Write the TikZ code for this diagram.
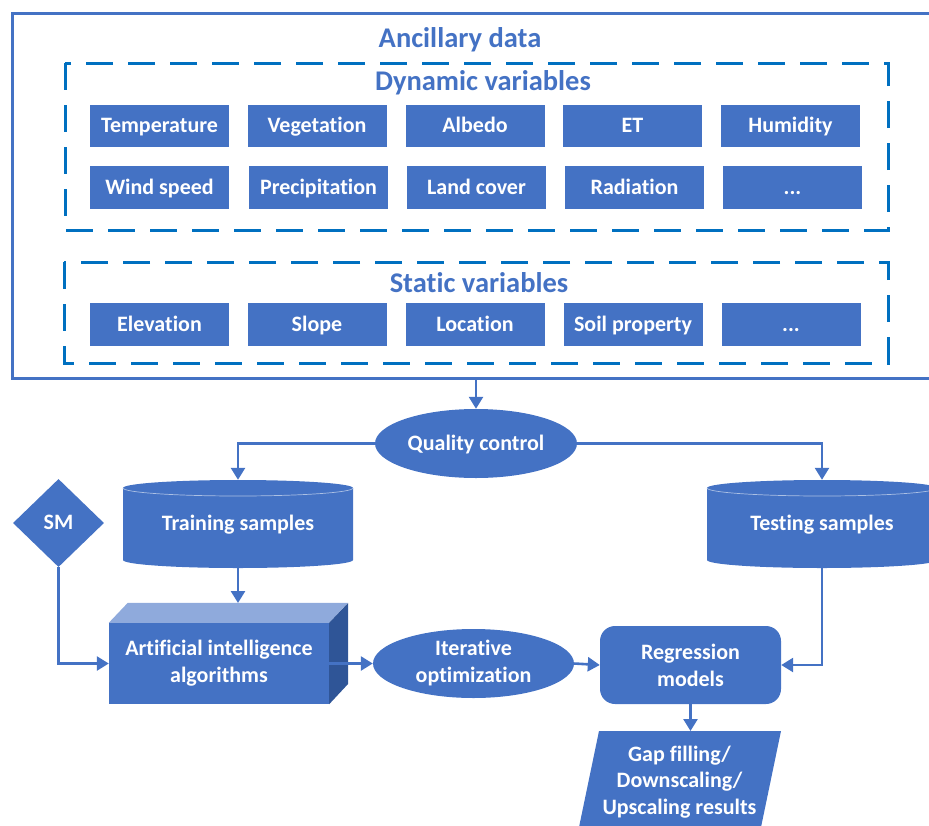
\documentclass[tikz,border=0pt]{standalone}
\usepackage{fontspec}
\setmainfont{Carlito}[Ligatures=NoCommon]
\usetikzlibrary{shapes.geometric,arrows.meta}
\definecolor{cblue}{HTML}{4472C4}
\definecolor{dblue}{HTML}{0070C0}
\definecolor{ltop}{HTML}{8FAADC}
\definecolor{dside}{HTML}{2F5597}
\begin{document}
\begin{tikzpicture}[x=1pt,y=-1pt,
  var/.style={fill=cblue,text=white,font=\fontsize{22}{26}\selectfont\bfseries,minimum width=139pt,minimum height=42.5pt,inner sep=0pt,text height=17pt,text depth=3.5pt},
  ttl/.style={text=cblue,font=\fontsize{28.5}{32}\selectfont\bfseries,inner sep=0pt},
  dbox/.style={draw=dblue,line width=3pt,dash pattern=on 27pt off 15pt},
  conn/.style={draw=cblue,line width=2.6pt,-{Triangle[width=14pt,length=12pt]}},
  wtxt/.style={text=white,font=\fontsize{22}{27}\selectfont\bfseries,align=center,inner sep=0pt},
  one/.style={text height=17pt,text depth=3.5pt},
  cylt/.style={wtxt,one,minimum width=230pt,minimum height=88pt},
  cyl/.pic={
    \fill[cblue] (-115,-36) .. controls (-115,-40.4) and (-63.5,-44) .. (0,-44) .. controls (63.5,-44) and (115,-40.4) .. (115,-36) -- (115,36) .. controls (115,40.4) and (63.5,44) .. (0,44) .. controls (-63.5,44) and (-115,40.4) .. (-115,36) -- cycle;
    \draw[white!55!cblue,line width=0.7pt] (-115,-36) .. controls (-115,-31.6) and (-63.5,-28) .. (0,-28) .. controls (63.5,-28) and (115,-31.6) .. (115,-36);
  }]
\useasboundingbox (0,0) rectangle (929,825);

% outer box
\node[draw=cblue,line width=3pt,minimum width=940pt,minimum height=365pt,inner sep=0pt] (anc) at (482,195.5) {};
\node[ttl] (anctitle) at (460,39.5) {Ancillary data};

% dynamic variables
\draw[dbox] (65,63) rectangle (888,230);
\node[ttl] (dyn) at (483,82.5) {Dynamic variables};
\node[var] (v1) at (159.5,126) {Temperature};
\node[var] (v2) at (317,126) {Vegetation};
\node[var] (v3) at (475,126) {Albedo};
\node[var] (v4) at (632.5,126) {ET};
\node[var] (v5) at (790.5,126) {Humidity};
\node[var] (v6) at (159.5,187.5) {Wind speed};
\node[var] (v7) at (318.5,187.5) {Precipitation};
\node[var] (v8) at (476.5,187.5) {Land cover};
\node[var] (v9) at (634.5,187.5) {Radiation};
\node[var] (v10) at (792.5,187.5) {...};

% static variables
\draw[dbox] (64,262) rectangle (888,363);
\node[ttl] (sta) at (479,282.5) {Static variables};
\node[var] (s1) at (159.5,324.5) {Elevation};
\node[var] (s2) at (317,324.5) {Slope};
\node[var] (s3) at (475,324.5) {Location};
\node[var] (s4) at (633,324.5) {Soil property};
\node[var] (s5) at (791,324.5) {...};

% quality control
\node[ellipse,fill=cblue,minimum width=202pt,minimum height=69pt,inner sep=0pt,wtxt,one] (qc) at (476,443.5) {Quality control};

% cylinders
\pic at (238,524) {cyl};
\node[cylt] (train) at (238,524) {Training samples};
\pic at (822,524) {cyl};
\node[cylt] (test) at (822,524) {Testing samples};

% SM diamond
\node[diamond,fill=cblue,minimum width=91pt,minimum height=88pt,inner sep=0pt,wtxt,one] (sm) at (58.5,523) {SM};

% cube
\node[fill=cblue,minimum width=220pt,minimum height=81pt,inner sep=0pt,wtxt] (ai) at (219,663.5) {Artificial intelligence\\algorithms};
\fill[ltop] (ai.north west) -- ++(19,-20) -- ++(220,0) -- (ai.north east) -- cycle;
\fill[dside] (ai.north east) -- ++(19,-20) -- ++(0,81) -- (ai.south east) -- cycle;
\coordinate (aitop) at (238,603);

% iterative optimization
\node[ellipse,fill=cblue,minimum width=201pt,minimum height=69pt,inner sep=0pt,wtxt] (iter) at (473.5,663.5) {Iterative\\optimization};

% regression
\node[rounded corners=15pt,fill=cblue,minimum width=181pt,minimum height=78pt,inner sep=0pt,wtxt] (reg) at (690.5,665) {Regression\\models};

% output parallelogram
\fill[cblue] (599,731) -- (781,731) -- (760,832) -- (578,832) -- cycle;
\node[wtxt,font=\fontsize{22}{26.5}\selectfont\bfseries] (out) at (679.5,782) {Gap filling/\\Downscaling/\\Upscaling results};
\coordinate (outtop) at (690.5,731);

% connectors
\draw[conn] (anc.south -| qc.north) -- (qc.north);
\draw[conn] (qc.west) -| (train.north);
\draw[conn] (qc.east) -| (test.north);
\draw[conn] (train.south) -- (aitop);
\draw[conn] (sm.south) |- (ai.west);
\draw[conn] (ai.east) -- (iter.west);
\draw[conn] (iter.east) -- (reg.west);
\draw[conn] (test.south) |- (reg.east);
\draw[conn] (reg.south) -- (outtop);
\end{tikzpicture}
\end{document}
